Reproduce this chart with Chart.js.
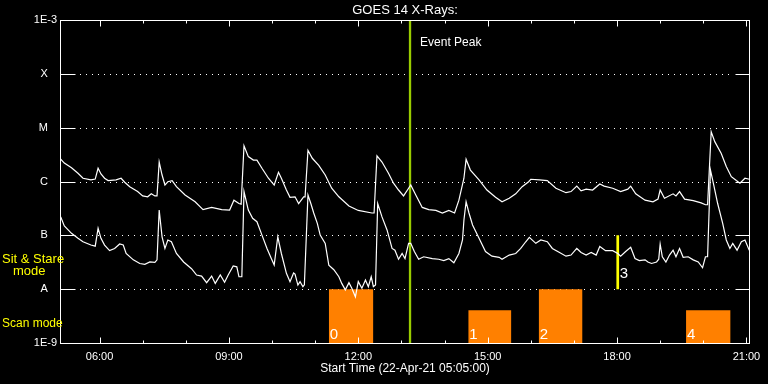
<!DOCTYPE html>
<html><head><meta charset="utf-8">
<script src="https://cdn.jsdelivr.net/npm/chart.js@4.4.0/dist/chart.umd.min.js"></script>
<style>html,body{margin:0;padding:0;background:#000;}canvas{display:block;}</style>
</head><body>
<canvas id="c" width="768" height="384"></canvas>
<script>
// ---------- text ----------
const chartTitle = 'GOES 14 X-Rays:';
const xAxisTitle = 'Start Time (22-Apr-21 05:05:00)';
const eventPeakLabel = 'Event Peak';
const sitStareLabel = ['Sit & Stare', 'mode'];
const scanModeLabel = 'Scan mode';

// ---------- axes ----------
const timeRange = ['05:05', '21:05'];
const xTickTimes = ['06:00', '09:00', '12:00', '15:00', '18:00', '21:00'];
const xHourTimes = ['06:00','07:00','08:00','09:00','10:00','11:00','12:00','13:00','14:00','15:00','16:00','17:00','18:00','19:00','20:00','21:00'];
const yTickValues = [1e-9, 1e-8, 1e-7, 1e-6, 1e-5, 1e-4, 1e-3];
const yTickLabels = ['1E-9', 'A', 'B', 'C', 'M', 'X', '1E-3'];
const classLevels = [1e-8, 1e-7, 1e-6, 1e-5, 1e-4];

// ---------- long channel (upper curve), W/m^2 ----------
const longTimes = [
 '05:05','05:11','05:21','05:30','05:37','05:48','05:54','05:58','06:02','06:07',
 '06:12','06:23','06:30','06:35','06:42','06:53','07:00','07:07','07:12','07:17',
 '07:20','07:23','07:27','07:31','07:35','07:41','07:47','07:59','08:13','08:24',
 '08:36','08:50','09:01','09:07','09:14','09:17','09:21','09:27','09:34','09:39',
 '09:46','09:55','10:03','10:09','10:13','10:20','10:25','10:32','10:37','10:44',
 '10:46','10:50','10:56','11:05','11:14','11:23','11:33','11:47','12:00','12:19',
 '12:22','12:26','12:33','12:42','12:49','12:56','13:03','13:10','13:13','13:20',
 '13:29','13:38','13:48','13:57','14:06','14:14','14:20','14:27','14:30','14:36',
 '14:48','14:59','15:11','15:20','15:30','15:39','15:48','15:57','16:00','16:12',
 '16:23','16:35','16:49','16:56','17:04','17:10','17:17','17:26','17:36','17:42',
 '17:54','18:05','18:15','18:19','18:26','18:39','18:50','18:57','19:00','19:06',
 '19:18','19:22','19:27','19:34','19:46','19:57','20:03','20:06','20:11','20:16',
 '20:25','20:32','20:39','20:46','20:51','20:58','21:04'];
const longFlux = [
 2.7e-6,2.2e-6,1.8e-6,1.42e-6,1.15e-6,1.07e-6,1.11e-6,1.76e-6,1.38e-6,1.15e-6,
 1.04e-6,1.07e-6,1.15e-6,9.7e-7,8.0e-7,6.5e-7,5.4e-7,5.2e-7,5.9e-7,5.4e-7,
 5.4e-7,2.3e-6,1.32e-6,8.6e-7,9.9e-7,1.04e-6,8.0e-7,5.6e-7,4.2e-7,3.0e-7,
 3.3e-7,3.0e-7,2.95e-7,4.5e-7,3.9e-7,3.8e-7,4.6e-6,2.9e-6,2.5e-6,2.5e-6,
 1.76e-6,1.15e-6,8.6e-7,1.48e-6,1.15e-6,6.95e-7,5.1e-7,5.2e-7,3.9e-7,5.2e-7,
 5.2e-7,3.8e-6,2.7e-6,2.0e-6,1.32e-6,7.5e-7,5.2e-7,3.5e-7,2.9e-7,2.6e-7,
 2.6e-7,3.0e-6,2.3e-6,1.42e-6,9.3e-7,6.95e-7,5.4e-7,7.5e-7,8.6e-7,5.6e-7,
 3.3e-7,3.0e-7,2.9e-7,2.6e-7,2.9e-7,2.6e-7,4.5e-7,1.15e-6,2.6e-6,1.63e-6,
 1.07e-6,6.95e-7,5.1e-7,4.2e-7,4.9e-7,5.9e-7,8.0e-7,9.9e-7,1.10e-6,1.07e-6,
 1.04e-6,7.5e-7,6.2e-7,6.5e-7,8.2e-7,6.7e-7,7.2e-7,6.95e-7,9.0e-7,8.2e-7,
 7.5e-7,6.5e-7,7.2e-7,8.2e-7,5.9e-7,4.5e-7,4.2e-7,4.7e-7,6.95e-7,4.9e-7,
 5.9e-7,5.4e-7,6.5e-7,4.7e-7,4.4e-7,4.0e-7,3.7e-7,3.7e-7,8.4e-6,5.5e-6,
 3.3e-6,1.9e-6,1.23e-6,1.04e-6,9.3e-7,1.15e-6,1.10e-6];

// ---------- short channel (lower curve), W/m^2 ----------
const shortTimes = [
 '05:06','05:11','05:21','05:30','05:37','05:48','05:54','05:58','06:02','06:07',
 '06:14','06:21','06:28','06:33','06:37','06:47','06:56','07:03','07:10','07:17',
 '07:20','07:23','07:27','07:31','07:35','07:40','07:47','07:57','08:08','08:15',
 '08:22','08:29','08:36','08:41','08:48','08:54','08:59','09:06','09:11','09:14',
 '09:18','09:21','09:27','09:33','09:39','09:46','09:53','09:59','10:03','10:08',
 '10:13','10:20','10:25','10:30','10:32','10:36','10:39','10:43','10:45','10:50',
 '10:54','10:58','11:03','11:07','11:14','11:19','11:26','11:33','11:37','11:42',
 '11:47','11:51','11:56','12:00','12:05','12:10','12:14','12:18','12:21','12:24',
 '12:27','12:33','12:40','12:47','12:51','12:56','13:01','13:05','13:10','13:13',
 '13:18','13:24','13:31','13:43','13:52','13:59','14:06','14:13','14:20','14:25',
 '14:27','14:30','14:34','14:39','14:48','14:57','15:06','15:16','15:20','15:30',
 '15:39','15:46','15:53','15:58','16:07','16:14','16:23','16:30','16:40','16:49',
 '16:56','17:04','17:10','17:17','17:24','17:31','17:36','17:44','17:54','18:01',
 '18:05','18:12','18:19','18:25','18:31','18:39','18:43','18:48','18:55','18:58',
 '19:00','19:03','19:08','19:13','19:18','19:22','19:27','19:32','19:39','19:46',
 '19:53','19:59','20:03','20:06','20:10','20:14','20:20','20:27','20:32','20:37',
 '20:41','20:47','20:53','20:58','21:04'];
const shortFlux = [
 2.2e-7,1.49e-7,1.09e-7,8.8e-8,7.6e-8,6.6e-8,6.3e-8,1.35e-7,8.8e-8,6.6e-8,
 5.2e-8,5.7e-8,6.9e-8,6.6e-8,4.6e-8,3.5e-8,3.0e-8,2.9e-8,3.2e-8,3.15e-8,
 3.5e-8,2.95e-7,9.4e-8,5.7e-8,8.2e-8,7.6e-8,4.6e-8,3.2e-8,2.4e-8,1.83e-8,
 1.75e-8,1.32e-8,1.75e-8,1.28e-8,1.83e-8,1.34e-8,1.83e-8,2.7e-8,2.6e-8,1.7e-8,
 1.7e-8,6.5e-7,2.95e-7,2.07e-7,1.79e-7,1.01e-7,5.7e-8,3.7e-8,2.8e-8,9.4e-8,
 4.6e-8,1.97e-8,1.38e-8,2.0e-8,1.91e-8,1.19e-8,1.38e-8,1.11e-8,1.2e-8,5.6e-7,
 3.9e-7,2.6e-7,1.67e-7,1.01e-7,7.1e-8,2.8e-8,2.3e-8,1.7e-8,1.28e-8,9.7e-9,
 1.32e-8,1.04e-8,7.2e-9,1.38e-8,1.04e-8,1.48e-8,1.11e-8,1.7e-8,1.11e-8,1.2e-8,
 3.9e-7,2.2e-7,1.26e-7,5.7e-8,5.3e-8,3.6e-8,4.6e-8,3.7e-8,7.1e-8,7.1e-8,
 5.0e-8,3.6e-8,4.0e-8,3.7e-8,3.6e-8,3.4e-8,3.7e-8,3.1e-8,4.6e-8,8.2e-8,
 1.93e-7,4.2e-7,2.6e-7,1.56e-7,8.8e-8,5.0e-8,4.1e-8,3.9e-8,3.6e-8,4.3e-8,
 4.6e-8,5.7e-8,7.6e-8,9.2e-8,7.1e-8,8.2e-8,7.6e-8,5.7e-8,4.8e-8,4.1e-8,
 4.3e-8,5.7e-8,4.8e-8,4.3e-8,4.8e-8,4.3e-8,6.2e-8,5.2e-8,5.2e-8,4.6e-8,
 4.1e-8,5.0e-8,6.0e-8,3.7e-8,3.4e-8,3.5e-8,3.2e-8,3.0e-8,3.2e-8,3.6e-8,
 6.9e-8,4.0e-8,3.2e-8,4.3e-8,5.3e-8,4.0e-8,5.7e-8,3.9e-8,4.0e-8,3.5e-8,
 3.2e-8,2.5e-8,4.0e-8,4.0e-8,1.63e-6,9.3e-7,3.9e-7,1.67e-7,8.2e-8,5.7e-8,
 7.1e-8,5.3e-8,7.6e-8,8.2e-8,5.3e-8];

// ---------- observing modes ----------
const scanNumbers = ['0', '1', '2', '4'];
const scanStarts  = ['11:19', '14:33', '16:11', '19:36'];
const scanEnds    = ['12:21', '15:33', '17:12', '20:38'];
const scanHeights = [1, 0.61, 1, 0.61];       // in decades above the 1E-9 floor
const stareNumbers = ['3'];
const stareTimes   = ['18:01'];
const stareRange   = [1e-8, 1e-7];
const eventPeakTime = '13:12';

// ---------- helpers ----------
const toMin = s => { const p = s.split(':').map(Number); return p[0] * 60 + p[1]; };
const FONT = '"Liberation Sans", Arial, sans-serif';
const ORANGE = '#FF8000', GREEN = '#99CC00', YELLOW = '#FFFF00';

const datasets = [];
datasets.push({ label: 'long', data: longTimes.map((t, i) => ({ x: toMin(t), y: longFlux[i] })),
  borderColor: '#fff', borderWidth: 1.2, pointRadius: 0, tension: 0, fill: false, order: 1 });
datasets.push({ label: 'short', data: shortTimes.map((t, i) => ({ x: toMin(t), y: shortFlux[i] })),
  borderColor: '#fff', borderWidth: 1.2, pointRadius: 0, tension: 0, fill: false, order: 1 });
datasets.push({ label: 'peak', data: [{ x: toMin(eventPeakTime), y: 1e-3 }, { x: toMin(eventPeakTime), y: 1e-9 }],
  borderColor: GREEN, borderWidth: 2.3, pointRadius: 0, fill: false, order: 2, clip: false });
stareTimes.forEach(t => datasets.push({ label: 'stare', data: [{ x: toMin(t), y: stareRange[1] }, { x: toMin(t), y: stareRange[0] }],
  borderColor: YELLOW, borderWidth: 2.7, pointRadius: 0, fill: false, order: 2 }));
scanStarts.forEach((s, i) => datasets.push({ label: 'scan' + scanNumbers[i], yAxisID: 'yMode',
  data: [{ x: toMin(s), y: scanHeights[i] }, { x: toMin(scanEnds[i]), y: scanHeights[i] }],
  backgroundColor: ORANGE, borderColor: ORANGE, borderWidth: 0, pointRadius: 0, fill: 'start', order: 3 }));

const frame = {
  id: 'frame',
  beforeDatasetsDraw(chart) {
    const { ctx, chartArea: a, scales: { y } } = chart;
    ctx.save();
    ctx.strokeStyle = '#fff'; ctx.lineWidth = 1; ctx.setLineDash([1, 5]);
    classLevels.forEach(v => {
      const py = Math.round(y.getPixelForValue(v)) + 0.5;
      ctx.beginPath(); ctx.moveTo(a.left + 20, py); ctx.lineTo(a.right - 16, py); ctx.stroke();
    });
    ctx.restore();
  },
  afterDatasetsDraw(chart) {
    const { ctx, chartArea: a, scales: { x, y } } = chart;
    ctx.save();
    ctx.strokeStyle = '#fff'; ctx.lineWidth = 1;
    const L = Math.round(a.left) + 0.5, R = Math.round(a.right) - 0.5, T = Math.round(a.top) + 0.5, B = Math.round(a.bottom) + 0.5;
    ctx.strokeRect(L, T, R - L, B - T);
    ctx.beginPath();
    classLevels.forEach(v => {
      const py = Math.round(y.getPixelForValue(v)) + 0.5;
      ctx.moveTo(L, py); ctx.lineTo(L + 15, py);
      ctx.moveTo(R, py); ctx.lineTo(R - 14, py);
    });
    xHourTimes.forEach(t => {
      const px = Math.round(x.getPixelForValue(toMin(t))) + 0.5;
      const len = xTickTimes.includes(t) ? 6 : 3;
      ctx.moveTo(px, T); ctx.lineTo(px, T + len);
      ctx.moveTo(px, B); ctx.lineTo(px, B - len);
    });
    ctx.stroke();

    // title
    ctx.fillStyle = '#fff';
    ctx.font = '13px ' + FONT; ctx.textAlign = 'center'; ctx.textBaseline = 'middle';
    ctx.fillText(chartTitle, (a.left + a.right) / 2, 10);

    // event peak label
    ctx.font = '12px ' + FONT; ctx.textAlign = 'left';
    ctx.fillText(eventPeakLabel, x.getPixelForValue(toMin(eventPeakTime)) + 10, a.top + 23);

    // scan numbers
    ctx.font = '15px ' + FONT; ctx.textBaseline = 'alphabetic';
    scanStarts.forEach((s, i) => ctx.fillText(scanNumbers[i], x.getPixelForValue(toMin(s)) + 1, a.bottom - 4));
    stareTimes.forEach((t, i) => ctx.fillText(stareNumbers[i], x.getPixelForValue(toMin(t)) + 2, y.getPixelForValue(stareRange[0]) - 11));

    // mode labels
    ctx.fillStyle = YELLOW; ctx.textBaseline = 'middle';
    ctx.font = '13px ' + FONT;
    ctx.fillText(sitStareLabel[0], 2, 259);
    ctx.fillText(sitStareLabel[1], 13, 271);
    ctx.font = '12px ' + FONT;
    ctx.fillText(scanModeLabel, 2, 324);
    ctx.restore();
  }
};

new Chart(document.getElementById('c'), {
  type: 'line',
  data: { datasets },
  options: {
    responsive: false, animation: false, events: [],
    layout: { padding: { top: 20, right: 18, bottom: 0, left: 0 } },
    plugins: { legend: { display: false }, tooltip: { enabled: false }, title: { display: false } },
    scales: {
      x: {
        type: 'linear', min: toMin(timeRange[0]), max: toMin(timeRange[1]),
        afterFit(s) { s.height = 41; },
        afterBuildTicks(s) { s.ticks = xTickTimes.map(t => ({ value: toMin(t) })); },
        ticks: { color: '#fff', font: { family: FONT, size: 11 }, padding: 7, maxRotation: 0, autoSkip: false,
          callback: (v, i) => xTickTimes[i] },
        grid: { display: false, drawTicks: false }, border: { display: false },
        title: { display: true, text: xAxisTitle, color: '#fff', font: { family: FONT, size: 12 }, padding: { top: 0, bottom: 8 } }
      },
      y: {
        type: 'logarithmic', min: 1e-9, max: 1e-3,
        afterFit(s) { s.width = 60; },
        afterBuildTicks(s) { s.ticks = yTickValues.map(v => ({ value: v })); },
        ticks: { color: '#fff', font: { family: FONT, size: 11 }, padding: 3, autoSkip: false,
          callback: (v, i) => yTickLabels[i].length === 1 ? yTickLabels[i] + '   ' : yTickLabels[i] },
        grid: { display: false, drawTicks: false }, border: { display: false }
      },
      yMode: { type: 'linear', min: 0, max: 6, display: false }
    }
  },
  plugins: [frame]
});
</script>
</body></html>
